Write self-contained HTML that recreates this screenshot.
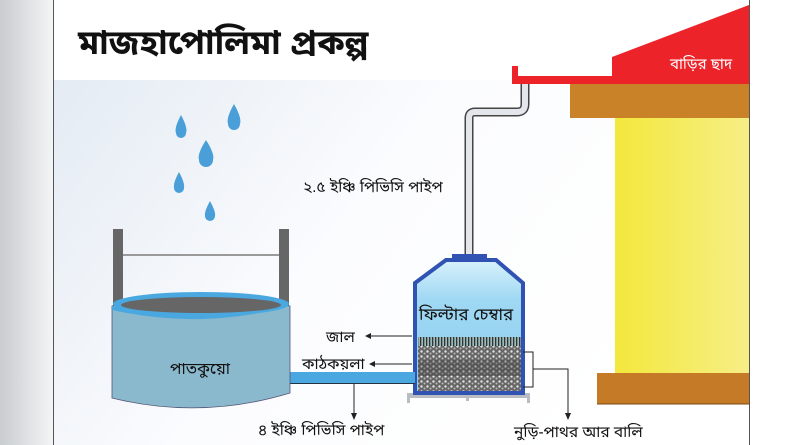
<!DOCTYPE html>
<html><head><meta charset="utf-8"><style>
html,body{margin:0;padding:0;width:800px;height:445px;overflow:hidden;background:#fff}
svg{display:block}
text{font-family:"Liberation Sans","Noto Sans Bengali","Lohit Bengali",sans-serif;fill:#111}
</style></head><body>
<svg width="800" height="445" viewBox="0 0 800 445" xmlns="http://www.w3.org/2000/svg">
<defs>
<linearGradient id="lg" x1="0" y1="0" x2="1" y2="0"><stop offset="0" stop-color="#c9ccd0"/><stop offset="1" stop-color="#f4f5f6"/></linearGradient>
<linearGradient id="bg" x1="0" y1="0" x2="1" y2="0.4"><stop offset="0" stop-color="#e4ebf3"/><stop offset="0.5" stop-color="#fbfcfe"/><stop offset="1" stop-color="#ffffff"/></linearGradient>
<linearGradient id="yw" x1="0" y1="0" x2="1" y2="0"><stop offset="0" stop-color="#f3e83c"/><stop offset="1" stop-color="#f6ee86"/></linearGradient>
<linearGradient id="fc" x1="0" y1="0" x2="0" y2="1"><stop offset="0" stop-color="#d8f1fb"/><stop offset="0.3" stop-color="#9fd8f3"/><stop offset="1" stop-color="#8ccdee"/></linearGradient>
<pattern id="gr" width="6" height="5" patternUnits="userSpaceOnUse"><rect width="6" height="5" fill="#666"/><circle cx="1.5" cy="1.5" r="1.2" fill="#e4e4e4"/><circle cx="4.5" cy="3.5" r="1" fill="#bbb"/></pattern>
<pattern id="mesh" width="3" height="10" patternUnits="userSpaceOnUse"><rect width="3" height="10" fill="#9bb"/><rect width="1.3" height="10" fill="#333"/></pattern>
</defs>
<rect x="0" y="0" width="54" height="445" fill="url(#lg)"/>
<rect x="54" y="0" width="696" height="445" fill="#fff"/>
<rect x="54" y="80" width="696" height="365" fill="url(#bg)"/>
<line x1="53.5" y1="0" x2="53.5" y2="445" stroke="#555" stroke-width="1"/>
<line x1="749.5" y1="0" x2="749.5" y2="445" stroke="#555" stroke-width="1"/>
<text x="78" y="54" font-size="34" font-weight="bold">মাজহাপোলিমা প্রকল্প</text>
<g fill="#4a9fd8">
<path d="M181,115 Q188,128 186,133 A5,5 0 0 1 176,133 Q174,128 181,115Z"/>
<path d="M234,104 Q242,118 240,124 A6,6 0 0 1 228,124 Q226,118 234,104Z"/>
<path d="M206,140 Q215,154 213,160 A7,7 0 0 1 199,160 Q197,154 206,140Z"/>
<path d="M179,172 Q185,183 184,188 A5,5 0 0 1 174,188 Q173,183 179,172Z"/>
<path d="M210,201 Q216,212 215,216 A5,5 0 0 1 205,216 Q204,212 210,201Z"/>
</g>
<polygon points="612,57 749,5 749,84 612,84" fill="#ec2329"/>
<polygon points="512,66 518,66 518,76 612,76 612,84 512,84" fill="#ec2329"/>
<text x="670" y="69" font-size="15" style="fill:#fff">বাড়ির ছাদ</text>
<rect x="570" y="84" width="179" height="34" fill="#c98228"/>
<rect x="615" y="118" width="134" height="255" fill="url(#yw)"/>
<rect x="597" y="373" width="152" height="31" fill="#c47a26"/>
<line x1="597" y1="404" x2="749" y2="404" stroke="#7a4a10"/>
<path d="M525,84 V104 Q525,112 517,112 H475 Q469,112 469,118 V257" fill="none" stroke="#444" stroke-width="9"/>
<path d="M525,84 V104 Q525,112 517,112 H475 Q469,112 469,118 V257" fill="none" stroke="#e3e6ea" stroke-width="6"/>
<text x="303" y="192" font-size="15.5">২.৫ ইঞ্চি পিভিসি পাইপ</text>
<rect x="407" y="393" width="123" height="5" fill="#b9bcc0"/>
<rect x="407" y="397" width="3" height="6" fill="#b9bcc0"/><rect x="466" y="397" width="3" height="4" fill="#b9bcc0"/><rect x="527" y="397" width="3" height="6" fill="#b9bcc0"/>
<rect x="452" y="254" width="35" height="6" fill="#2f52b3"/>
<polygon points="446,260 496,260 523,283 523,393 415,393 415,283" fill="url(#fc)" stroke="#2f52b3" stroke-width="4"/>
<rect x="418" y="337" width="103" height="9" fill="url(#mesh)"/>
<rect x="418" y="346" width="103" height="45" fill="url(#gr)"/>
<rect x="418" y="360" width="103" height="16" fill="#3a3a3a" opacity="0.35"/>
<text x="419" y="320" font-size="17">ফিল্টার চেম্বার</text>
<text x="326" y="342" font-size="15.5">জাল</text>
<line x1="412" y1="336" x2="368" y2="336" stroke="#222"/><polygon points="365,336 371,333 371,339" fill="#222"/>
<text x="302" y="369" font-size="15.5">কাঠকয়লা</text>
<line x1="412" y1="364" x2="372" y2="364" stroke="#222"/><polygon points="369,364 375,361 375,367" fill="#222"/>
<path d="M523,352 H533 V387 H523 M533,369 H568 V416" fill="none" stroke="#222"/>
<polygon points="568,420 565,413 571,413" fill="#222"/>
<text x="514" y="437" font-size="15.5">নুড়ি-পাথর আর বালি</text>
<rect x="288" y="372" width="127" height="11" fill="#4ba7e0"/>
<line x1="288" y1="383.5" x2="415" y2="383.5" stroke="#234"/>
<line x1="354" y1="384" x2="354" y2="416" stroke="#222"/><polygon points="354,420 351,413 357,413" fill="#222"/>
<text x="258" y="435" font-size="15.5">৪ ইঞ্চি পিভিসি পাইপ</text>
<rect x="113" y="229" width="10" height="80" fill="#666"/>
<rect x="279" y="229" width="10" height="80" fill="#666"/>
<line x1="123" y1="255" x2="279" y2="255" stroke="#9a9a9a" stroke-width="2"/>
<path d="M112,306 Q201,285 290,306 V393 Q201,420 112,398 Z" fill="#8ab8cc" stroke="#557" stroke-width="0.8"/>
<ellipse cx="201" cy="304" rx="88" ry="12" fill="#4aa8e0"/>
<ellipse cx="201" cy="305" rx="80" ry="8" fill="#666"/>
<path d="M112,306 Q201,324 290,306 Q201,330 112,310Z" fill="#4aa8e0"/>
<text x="170" y="374" font-size="16">পাতকুয়ো</text>
</svg>
</body></html>
